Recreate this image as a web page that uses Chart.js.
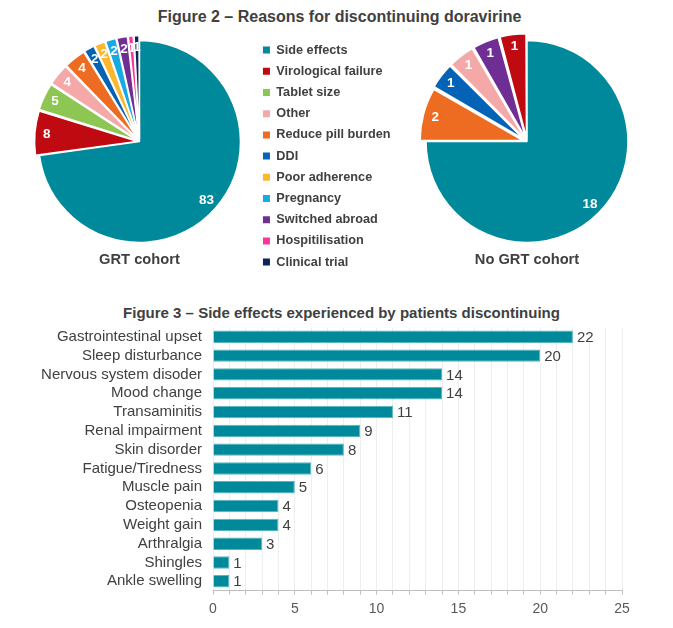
<!DOCTYPE html>
<html><head><meta charset="utf-8">
<script src="https://cdn.jsdelivr.net/npm/chart.js@4/dist/chart.umd.min.js"></script>
<style>
html,body{margin:0;padding:0;background:#fff;width:673px;height:628px;overflow:hidden;position:relative;font-family:"Liberation Sans",Arial,sans-serif}
.ttl{position:absolute;left:0;text-align:center;color:#404040;white-space:nowrap;font-family:"Liberation Sans",Arial,sans-serif;font-weight:bold}
#t2{top:8px;width:679px;font-size:16px;line-height:18px}
#t3{top:304px;width:683px;font-size:15px;line-height:18px}
canvas{position:absolute}
</style></head><body>
<div id="t2" class="ttl">Figure 2 – Reasons for discontinuing doravirine</div>
<div id="t3" class="ttl">Figure 3 – Side effects experienced by patients discontinuing</div>
<canvas id="pA" width="408" height="250" style="left:0;top:28px"></canvas>
<canvas id="pB" width="220" height="250" style="left:417px;top:28px"></canvas>
<canvas id="bar" width="673" height="330" style="left:0;top:298px"></canvas>
<script>
// ---- data ----
const reasons = ['Side effects','Virological failure','Tablet size','Other','Reduce pill burden','DDI','Poor adherence','Pregnancy','Switched abroad','Hospitilisation','Clinical trial'];
const grtCounts = [83,8,5,4,4,2,2,2,2,1,1];
const noGrtReasons = ['Side effects','Reduce pill burden','DDI','Other','Switched abroad','Virological failure'];
const noGrtCounts = [18,2,1,1,1,1];
const sideEffects = ['Gastrointestinal upset','Sleep disturbance','Nervous system disoder','Mood change','Transaminitis','Renal impairment','Skin disorder','Fatigue/Tiredness','Muscle pain','Osteopenia','Weight gain','Arthralgia','Shingles','Ankle swelling'];
const sideEffectCounts = [22,20,14,14,11,9,8,6,5,4,4,3,1,1];
const xTickLabels = [0,5,10,15,20,25];

// ---- styles ----
const FAM = '"Liberation Sans", Arial, sans-serif';
const TXT = '#404040';
const reasonColors = {
  'Side effects':'#00899A','Virological failure':'#C00A12','Tablet size':'#8DC653','Other':'#F4A9A8',
  'Reduce pill burden':'#EE6B22','DDI':'#0563B5','Poor adherence':'#FDB72F','Pregnancy':'#17A9E1',
  'Switched abroad':'#6F2E93','Hospitilisation':'#FF3399','Clinical trial':'#0D2456'
};

const pieLabels = {
  id:'pieLabels',
  afterDatasetsDraw(chart){
    const ctx = chart.ctx, meta = chart.getDatasetMeta(0), ds = chart.data.datasets[0];
    ctx.save();
    ctx.font = 'bold 13.5px ' + FAM;
    ctx.fillStyle = '#fff'; ctx.textAlign = 'center'; ctx.textBaseline = 'middle';
    meta.data.forEach((arc,i)=>{
      const p = arc.getProps(['x','y','startAngle','endAngle','outerRadius','circumference'], true);
      const mid = (p.startAngle + p.endAngle)/2;
      const off = (arc.options.offset||0)/4;
      const disp = off*(2 - Math.sin(Math.min(Math.PI, p.circumference)));
      const r = p.outerRadius + disp - 12;
      ctx.fillText(String(ds.data[i]), p.x + Math.cos(mid)*r, p.y + Math.sin(mid)*r);
    });
    ctx.restore();
  }
};

const barLabels = {
  id:'barLabels',
  afterDatasetsDraw(chart){
    const ctx = chart.ctx, meta = chart.getDatasetMeta(0), ds = chart.data.datasets[0];
    ctx.save();
    ctx.font = '15px ' + FAM;
    ctx.fillStyle = TXT; ctx.textAlign = 'left'; ctx.textBaseline = 'middle';
    meta.data.forEach((bar,i)=>{
      ctx.fillText(String(ds.data[i]), bar.x + 4, bar.y + 1);
    });
    ctx.restore();
  }
};

function pieConfig(labels, values, title, offsetPx, withLegend, padding){
  return {
    type:'pie',
    data:{labels, datasets:[{
      data:values,
      backgroundColor: labels.map(l=>reasonColors[l]),
      borderColor:'#ffffff', borderWidth:1.5,
      offset: c => c.dataIndex === 0 ? 0 : offsetPx
    }]},
    options:{
      responsive:false, animation:false, radius:101,
      layout:{padding},
      plugins:{
        tooltip:{enabled:false},
        legend:{
          display:withLegend, position:'right', align:'start', fullSize:true,
          labels:{
            boxWidth:7, boxHeight:7, padding:8.5, color:TXT,
            font:{family:FAM, size:12.7, weight:'bold'},
            generateLabels(chart){
              return Chart.overrides.pie.plugins.legend.labels.generateLabels(chart)
                .map(it=>Object.assign(it,{lineWidth:0, strokeStyle:it.fillStyle}));
            }
          }
        },
        title:{
          display:true, text:title, position:'bottom', fullSize:false, color:TXT,
          font:{family:FAM, size:14.7, weight:'bold'}, padding:{top:2.85, bottom:9.6}
        }
      }
    },
    plugins:[pieLabels]
  };
}

new Chart(document.getElementById('pA'), pieConfig(reasons, grtCounts, 'GRT cohort', 10, true, {left:24.5, right:7.5, top:7.25, bottom:0}));
new Chart(document.getElementById('pB'), pieConfig(noGrtReasons, noGrtCounts, 'No GRT cohort', 16, false, {left:0, right:0, top:7.25, bottom:0}));

new Chart(document.getElementById('bar'), {
  type:'bar',
  data:{labels:sideEffects, datasets:[{
    data:sideEffectCounts, backgroundColor:'#00899A', borderColor:'#55B6C0', borderWidth:1,
    categoryPercentage:1, barPercentage:0.66
  }]},
  options:{
    indexAxis:'y', responsive:false, animation:false,
    layout:{padding:{left:20, right:51, top:29.4, bottom:3.5}},
    plugins:{legend:{display:false}, tooltip:{enabled:false}},
    scales:{
      x:{
        min:0, max:25,
        ticks:{stepSize:1, autoSkip:false, maxRotation:0, maxTicksLimit:30,
          callback:v => xTickLabels.includes(v) ? String(v) : '',
          font:{family:FAM, size:14}, color:'#595959', padding:6.5},
        grid:{color:'#eeeeee', tickColor:'#bfbfbf', tickLength:4, drawTicks:true},
        border:{color:'#bfbfbf'}
      },
      y:{
        grid:{display:false}, border:{display:false},
        ticks:{font:{family:FAM, size:15}, color:TXT, autoSkip:false},
        afterFit(s){ s.width = 193; }
      }
    }
  },
  plugins:[barLabels]
});
</script>
</body></html>
